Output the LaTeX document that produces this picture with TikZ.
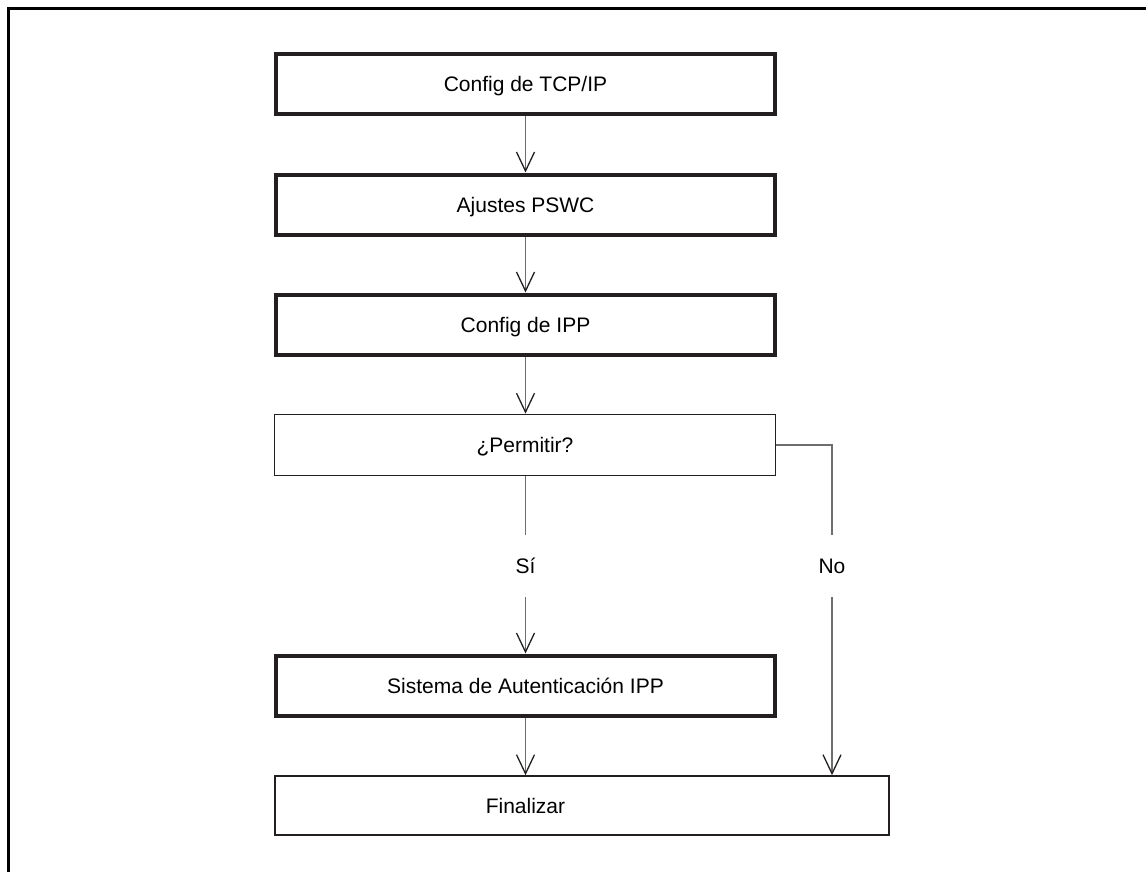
\documentclass[tikz,border=0pt]{standalone}
\usepackage{fontspec}
\setmainfont{Liberation Sans}
\usetikzlibrary{arrows.meta}
\definecolor{ink}{HTML}{231F20}
\definecolor{connc}{HTML}{6E6E6E}
\begin{document}
\begin{tikzpicture}[x=1pt,y=-1pt,
  every node/.style={font=\fontsize{21}{25}\selectfont, text height=15pt, text depth=0pt},
  thickbox/.style={draw=ink, line width=4pt, minimum width=499pt, minimum height=60pt, inner sep=0pt},
  thinbox/.style={draw=ink, line width=1.6pt, minimum width=501pt, minimum height=61pt, inner sep=0pt},
  conn/.style={draw=connc, line width=1.1pt},
  arr/.style={conn, -{Straight Barb[length=19pt,width=18pt,color=ink,line width=1.3pt]}},
  lbl/.style={minimum height=62pt, inner sep=0pt}
]
\useasboundingbox (0,0) rectangle (1146,872);
\draw[line width=3pt, black] (8.3,872) -- (8.3,8.5) -- (1146,8.5);

\node[thickbox] (tcp)  at (525.5,84.5)  {Config de TCP/IP};
\node[thickbox] (pswc) at (525.5,204.5) {Ajustes PSWC};
\node[thickbox] (ipp)  at (525.5,324.5) {Config de IPP};
\node[thinbox]  (perm) at (525,445)     {¿Permitir?};
\node[lbl]      (si)   at (525.5,566)   {Sí};
\node[lbl]      (no)   at (832,566)     {No};
\node[thickbox] (auth) at (525.5,685.5) {Sistema de Autenticación IPP};
\node[thinbox, minimum width=614pt, minimum height=59pt] (fin) at (582,805.5) {};
\node (fintext) at (525.5,805.5) {Finalizar};

\draw[arr] (tcp) -- (pswc);
\draw[arr] (pswc) -- (ipp);
\draw[arr] (ipp) -- (ipp |- perm.north);
\draw[conn] (perm.south -| si) -- (si);
\draw[arr] (si) -- (auth);
\draw[conn] (perm.east) -| (no);
\draw[arr] (no) -- (no |- fin.north);
\draw[arr] (auth) -- (auth |- fin.north);
\end{tikzpicture}
\end{document}
